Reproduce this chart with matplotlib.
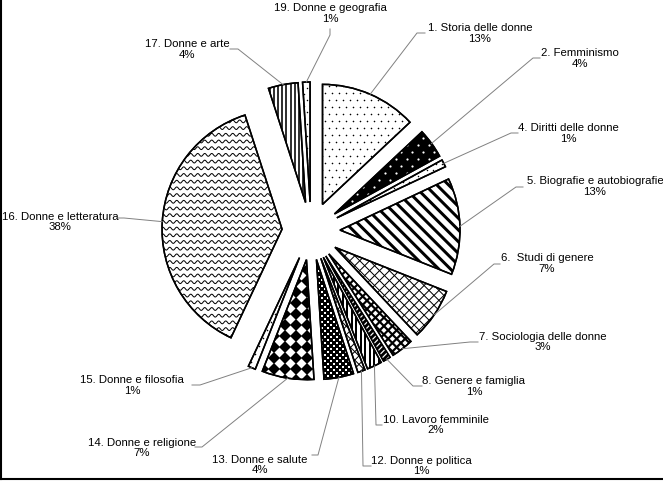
import numpy as np
import matplotlib.pyplot as plt
from matplotlib.patches import Wedge
from matplotlib.collections import LineCollection
from matplotlib.lines import Line2D

W, H = 663, 482
plt.rcParams['font.family'] = ['Liberation Sans', 'DejaVu Sans']

# data
categories = ["1. Storia delle donne", "2. Femminismo", "4. Diritti delle donne",
              "5. Biografie e autobiografie", "6.  Studi di genere",
              "7. Sociologia delle donne", "8. Genere e famiglia",
              "10. Lavoro femminile", "12. Donne e politica", "13. Donne e salute",
              "14. Donne e religione", "15. Donne e filosofia",
              "16. Donne e letteratura", "17. Donne e arte", "19. Donne e geografia"]
shares = [13, 4, 1, 13, 7, 3, 1, 2, 1, 4, 7, 1, 38, 4, 1]

# label layout in pixels (from top-left): text centre, stub end near text, elbow
label_xy = [(480, 33.5), (580, 58.5), (568, 133.5), (595, 186.5), (547, 263.5),
            (543, 342), (474, 386.5), (436, 425), (421, 466), (260, 465),
            (142, 448), (132, 385.5), (60, 222), (187, 49.5), (330, 13.5)]
stub_xy = [(425, 33), (540, 58), (518, 133), (523, 187), (500, 264),
           (478, 342), (422, 386), (382, 425), (371, 466), (312, 455),
           (195, 447), (192, 385), (118, 218), (230, 49), (330, 29)]
elbow_xy = [(417, 33), (533, 58), (511, 133), (516, 187), (494, 264),
            (470, 342), (413, 386), (376, 425), (363, 466), (318, 455),
            (202, 447), (200, 385), (124, 218), (238, 49), (330, 35)]

faces = ['white', 'black', 'white', 'white', 'white', 'white', 'black', 'white',
         'white', 'white', 'white', 'white', 'white', 'white', 'white']

fig = plt.figure(figsize=(W / 100, H / 100), dpi=100)
ax = fig.add_axes([0, 0, 1, 1])

cx, cy, R = 311, H - 231, 120
wedges, _ = ax.pie(shares, explode=[29] * len(shares), startangle=90,
                   counterclock=False, center=(cx, cy), radius=R, colors=faces,
                   wedgeprops=dict(edgecolor='black', linewidth=1.1))
ax.set_xlim(0, W)
ax.set_ylim(0, H)
ax.set_aspect('equal')
ax.axis('off')


def lines_tex(w, angle, spacing, lw, color='black'):
    d = np.array([np.cos(np.radians(angle)), np.sin(np.radians(angle))])
    n = np.array([-d[1], d[0]])
    c = np.array(w.center)
    segs = []
    for k in np.arange(-w.r * 1.1, w.r * 1.1, spacing):
        p = c + k * n
        segs.append([p - w.r * 1.2 * d, p + w.r * 1.2 * d])
    lc = LineCollection(segs, colors=color, linewidths=lw * 0.72, zorder=2)
    ax.add_collection(lc)
    lc.set_clip_path(w)


def marks_tex(w, dx, dy, size, color='black', marker='o', stagger=True):
    c = np.array(w.center)
    px, py = [], []
    for j, yy in enumerate(np.arange(c[1] - w.r, c[1] + w.r, dy)):
        off = (j % 2) * dx / 2 if stagger else 0
        for xx in np.arange(c[0] - w.r + off, c[0] + w.r, dx):
            px.append(xx)
            py.append(yy)
    ln, = ax.plot(px, py, ls='none', marker=marker, ms=size * 0.72,
                  color=color, mew=0, zorder=2)
    ln.set_clip_path(w)


def wave_tex(w, spacing, period, amp, lw):
    c = np.array(w.center)
    xs = np.arange(c[0] - w.r, c[0] + w.r, 0.4)
    segs = []
    for yy in np.arange(c[1] - w.r, c[1] + w.r, spacing):
        segs.append(np.column_stack([xs, yy + amp * np.sin(2 * np.pi * xs / period)]))
    lc = LineCollection(segs, colors='black', linewidths=lw * 0.72, zorder=2)
    ax.add_collection(lc)
    lc.set_clip_path(w)


w = wedges
marks_tex(w[0], 7, 7, 1.6)                      # Storia
marks_tex(w[1], 11, 7, 2.2, color='white')      # Femminismo
marks_tex(w[2], 6, 6, 1.5)                      # Diritti
lines_tex(w[3], -45, 8.3, 3.0)                  # Biografie
lines_tex(w[4], 45, 7, 1.0)                     # Studi di genere
lines_tex(w[4], -45, 7, 1.0)
lines_tex(w[5], 45, 6, 2.2)                     # Sociologia
lines_tex(w[5], -45, 6, 2.2)
lines_tex(w[6], 45, 4, 1.2, color='white')      # Genere e famiglia
lines_tex(w[7], 90, 4.5, 2.0)                   # Lavoro femminile
lines_tex(w[8], 45, 6, 1.0)                     # Politica
lines_tex(w[8], -45, 6, 1.0)
marks_tex(w[9], 6, 3, 3.6, marker='s')          # Salute
marks_tex(w[10], 11, 11, 9, marker='D', stagger=False)  # Religione
marks_tex(w[11], 8, 8, 1.6)                     # Filosofia
wave_tex(w[12], 6.7, 7, 1.4, 1.0)               # Letteratura
lines_tex(w[13], 90, 4.2, 1.6)                  # Arte
marks_tex(w[14], 6, 6, 1.5)                     # Geografia

for wd in wedges:
    ax.add_patch(Wedge(wd.center, wd.r, wd.theta1, wd.theta2, fill=False,
                       edgecolor='black', linewidth=1.1, zorder=3))

for wd, cat, s, lab, st, el in zip(wedges, categories, shares, label_xy, stub_xy, elbow_xy):
    tm = np.radians((wd.theta1 + wd.theta2) / 2)
    ax_, ay_ = wd.center[0] + wd.r * np.cos(tm), wd.center[1] + wd.r * np.sin(tm)
    ax.plot([ax_, el[0], st[0]], [ay_, H - el[1], H - st[1]], color='#808080',
            lw=0.7, zorder=4)
    ax.text(lab[0], H - lab[1], f"{cat}\n{s}%", ha='center', va='center',
            fontsize=8.2, linespacing=1.1)

# frame of the exported picture (left and bottom)
fig.add_artist(Line2D([0.0015, 0.0015], [3 / H, 1], transform=fig.transFigure,
                      color='black', lw=1.5))
fig.add_artist(Line2D([0, 1], [3 / H, 3 / H], transform=fig.transFigure,
                      color='black', lw=1.5))

fig.savefig('out.png', dpi=100)
